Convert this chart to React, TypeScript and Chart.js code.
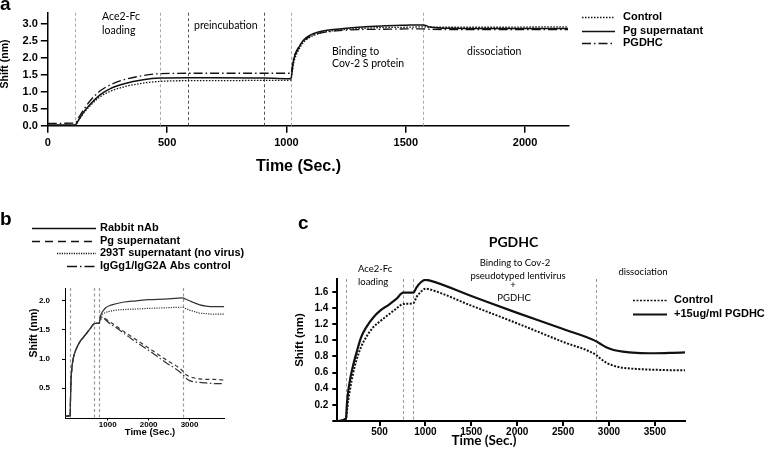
import React, { useEffect, useRef } from "react";
import { Chart, registerables } from "chart.js";

Chart.register(...registerables);

// ---------------- Panel a data ----------------
const aTime = [0, 115, 130, 150, 180, 220, 260, 320, 400, 471, 587, 700, 908, 1000, 1018, 1030, 1045, 1070, 1100, 1130, 1170, 1220, 1300, 1400, 1500, 1574, 1600, 1700, 1900, 2100, 2180];
const aControl = [0.01, 0.01, 0.17, 0.37, 0.61, 0.86, 1.01, 1.15, 1.26, 1.31, 1.33, 1.33, 1.34, 1.34, 1.35, 1.85, 2.15, 2.45, 2.62, 2.71, 2.78, 2.83, 2.87, 2.9, 2.91, 2.92, 2.91, 2.91, 2.91, 2.92, 2.92];
const aPg = [0.02, 0.02, 0.18, 0.4, 0.65, 0.92, 1.09, 1.24, 1.36, 1.41, 1.42, 1.42, 1.41, 1.39, 1.39, 1.95, 2.22, 2.52, 2.68, 2.76, 2.82, 2.86, 2.91, 2.95, 2.97, 2.98, 2.92, 2.88, 2.87, 2.87, 2.87];
const aPgdhc = [0.07, 0.08, 0.25, 0.47, 0.76, 1.03, 1.2, 1.36, 1.48, 1.54, 1.55, 1.55, 1.55, 1.55, 1.55, 2.0, 2.25, 2.5, 2.64, 2.72, 2.77, 2.81, 2.84, 2.85, 2.86, 2.86, 2.85, 2.84, 2.84, 2.84, 2.84];
const aSteps = [115, 471, 587, 908, 1018, 1574];
const aXTicks = [0, 500, 1000, 1500, 2000];
const aYTicks = [0, 0.5, 1, 1.5, 2, 2.5, 3];
const aLabels = ["Control", "Pg supernatant", "PGDHC"];

// ---------------- Panel b data ----------------
const bTime = [-40, 80, 95, 120, 160, 200, 260, 330, 400, 500, 600, 670, 795, 815, 845, 900, 950, 1050, 1200, 1400, 1700, 2000, 2400, 2830, 2900, 3000, 3100, 3250, 3400, 3600, 3850];
const bRabbit = [0.02, 0.03, 0.5, 0.82, 1.02, 1.12, 1.22, 1.31, 1.37, 1.46, 1.55, 1.61, 1.62, 1.72, 1.78, 1.84, 1.88, 1.92, 1.95, 1.98, 2.0, 2.02, 2.03, 2.05, 2.03, 2.0, 1.97, 1.93, 1.91, 1.9, 1.9];
const bPg = [0.02, 0.03, 0.5, 0.82, 1.02, 1.12, 1.22, 1.31, 1.37, 1.46, 1.55, 1.61, 1.62, 1.68, 1.72, 1.72, 1.69, 1.64, 1.57, 1.47, 1.33, 1.19, 1.0, 0.8, 0.74, 0.7, 0.68, 0.66, 0.65, 0.65, 0.64];
const b293T = [0.02, 0.03, 0.5, 0.82, 1.02, 1.12, 1.22, 1.31, 1.37, 1.46, 1.55, 1.61, 1.62, 1.7, 1.75, 1.78, 1.8, 1.82, 1.84, 1.85, 1.86, 1.87, 1.88, 1.89, 1.87, 1.84, 1.82, 1.79, 1.78, 1.77, 1.77];
const bIgG = [0.02, 0.03, 0.5, 0.82, 1.02, 1.12, 1.22, 1.31, 1.37, 1.46, 1.55, 1.61, 1.62, 1.66, 1.69, 1.7, 1.67, 1.61, 1.54, 1.44, 1.29, 1.15, 0.95, 0.74, 0.68, 0.63, 0.61, 0.6, 0.59, 0.58, 0.58];
const bSteps = [80, 670, 795, 2830];
const bXTicks = [1000, 2000, 3000];
const bYTicks = [0.5, 1, 1.5, 2];
const bLabels = ["Rabbit nAb", "Pg supernatant", "293T supernatant (no virus)", "IgGg1/IgG2A Abs control"];

// ---------------- Panel c data ----------------
const cTime = [40, 135, 145, 160, 180, 210, 250, 300, 360, 430, 510, 600, 680, 760, 870, 900, 950, 1000, 1050, 1500, 2000, 2500, 2858, 2900, 2975, 3050, 3150, 3300, 3500, 3700, 3828];
const cControl = [0.0, 0.03, 0.12, 0.26, 0.4, 0.58, 0.76, 0.92, 1.05, 1.16, 1.24, 1.32, 1.39, 1.45, 1.46, 1.53, 1.6, 1.64, 1.63, 1.43, 1.21, 0.98, 0.82, 0.78, 0.72, 0.685, 0.66, 0.645, 0.635, 0.63, 0.63];
const cPgdhc = [0.0, 0.03, 0.22, 0.38, 0.52, 0.68, 0.85, 1.04, 1.17, 1.28, 1.37, 1.44, 1.51, 1.59, 1.59, 1.65, 1.72, 1.75, 1.74, 1.55, 1.34, 1.14, 0.99, 0.96, 0.91, 0.88, 0.86, 0.845, 0.84, 0.845, 0.85];
const cSteps = [135, 760, 870, 2858];
const cXTicks = [500, 1000, 1500, 2000, 2500, 3000, 3500];
const cYTicks = [0, 0.2, 0.4, 0.6, 0.8, 1.0, 1.2, 1.4, 1.6];
const cLabels = ["Control", "+15ug/ml PGDHC"];

// ---------------- helpers ----------------
const ARIAL = '"Liberation Sans", Arial, sans-serif';
const CAL = 'Lato, "Noto Sans", sans-serif';
const f = (size: number, weight: string = "bold", family: string = ARIAL) => `${weight} ${size}px ${family}`;

const pts = (xs: number[], ys: number[]) => xs.map((x, i) => ({ x, y: ys[i] }));

type TextItem = { text: string; x: number; y: number; font: string; align?: CanvasTextAlign; rotate?: number; color?: string };
type LegendItem = { label: string; x1: number; x2: number; y: number; dash: number[]; width: number; color: string; textX: number; font: string };

function overlay(steps: number[], stepColors: string[], stepWidth: number, texts: TextItem[], legend: LegendItem[]) {
  return {
    id: "overlay",
    beforeDatasetsDraw(chart: any) {
      const { ctx, chartArea, scales } = chart;
      ctx.save();
      steps.forEach((v, i) => {
        const x = Math.round(scales.x.getPixelForValue(v)) + 0.5;
        ctx.strokeStyle = stepColors[i];
        ctx.lineWidth = stepWidth;
        ctx.setLineDash([3, 2.5]);
        ctx.beginPath();
        ctx.moveTo(x, chartArea.top);
        ctx.lineTo(x, chartArea.bottom);
        ctx.stroke();
      });
      ctx.restore();
    },
    afterDraw(chart: any) {
      const ctx = chart.ctx;
      ctx.save();
      for (const it of legend) {
        ctx.beginPath();
        ctx.setLineDash(it.dash);
        ctx.lineWidth = it.width;
        ctx.strokeStyle = it.color;
        ctx.moveTo(it.x1, it.y + 0.5);
        ctx.lineTo(it.x2, it.y + 0.5);
        ctx.stroke();
        ctx.setLineDash([]);
        ctx.font = it.font;
        ctx.fillStyle = "#000";
        ctx.textAlign = "left";
        ctx.textBaseline = "middle";
        ctx.fillText(it.label, it.textX, it.y);
      }
      for (const t of texts) {
        ctx.save();
        ctx.translate(t.x, t.y);
        if (t.rotate) ctx.rotate(t.rotate);
        ctx.font = t.font;
        ctx.textAlign = t.align || "left";
        ctx.textBaseline = "middle";
        ctx.fillStyle = t.color || "#000";
        ctx.fillText(t.text, 0, 0);
        ctx.restore();
      }
      ctx.restore();
    },
  };
}

function axisX(min: number, max: number, ticks: number[], h: number, tickFont: any, tickLen: number, pad: number, lw: number, fmt: (v: number) => string) {
  return {
    type: "linear",
    min,
    max,
    afterFit: (s: any) => { s.height = h; },
    afterBuildTicks: (s: any) => { s.ticks = ticks.map((v) => ({ value: v })); },
    ticks: { callback: (v: any) => fmt(Number(v)), font: tickFont, color: "#000", padding: pad, autoSkip: false, maxRotation: 0 },
    grid: { drawOnChartArea: false, drawTicks: true, tickLength: tickLen, tickColor: "#000", tickWidth: lw, lineWidth: lw, color: "#000" },
    border: { display: true, color: "#000", width: lw },
  };
}

function axisY(min: number, max: number, ticks: number[], w: number, tickFont: any, tickLen: number, pad: number, lw: number, fmt: (v: number) => string) {
  return {
    type: "linear",
    min,
    max,
    afterFit: (s: any) => { s.width = w; },
    afterBuildTicks: (s: any) => { s.ticks = ticks.map((v) => ({ value: v })); },
    ticks: { callback: (v: any) => fmt(Number(v)), font: tickFont, color: "#000", padding: pad, autoSkip: false },
    grid: { drawOnChartArea: false, drawTicks: true, tickLength: tickLen, tickColor: "#000", tickWidth: lw, lineWidth: lw, color: "#000" },
    border: { display: true, color: "#000", width: lw },
  };
}

function line(label: string, data: any[], color: string, width: number, dash: number[]) {
  return {
    label,
    data,
    borderColor: color,
    borderWidth: width,
    borderDash: dash,
    pointRadius: 0,
    fill: false,
    cubicInterpolationMode: "monotone",
  };
}

function baseOptions(padding: any, scales: any) {
  return {
    responsive: false,
    animation: false,
    devicePixelRatio: 1,
    layout: { padding },
    plugins: { legend: { display: false }, tooltip: { enabled: false }, title: { display: false } },
    scales,
  };
}

// ---------------- configs ----------------
function configA() {
  const dashes = [[1.5, 1.5], [], [9, 3, 1.5, 3]];
  const widths = [1.3, 1.5, 1.3];
  const series = [aControl, aPg, aPgdhc];
  const legendY = [17, 31, 43];
  const legend: LegendItem[] = aLabels.map((l, i) => ({ label: l, x1: 582, x2: 615, y: legendY[i], dash: dashes[i], width: widths[i], color: "#111", textX: 623, font: f(11) }));
  const texts: TextItem[] = [
    { text: "a", x: 0, y: 5, font: f(19) },
    { text: "Ace2-Fc", x: 102, y: 17, font: f(10.5, "normal", CAL) },
    { text: "loading", x: 102, y: 31, font: f(10.5, "normal", CAL) },
    { text: "preincubation", x: 194, y: 26, font: f(10.5, "normal", CAL) },
    { text: "Binding to", x: 332, y: 52, font: f(10.5, "normal", CAL) },
    { text: "Cov-2 S protein", x: 332, y: 64, font: f(10.5, "normal", CAL) },
    { text: "dissociation", x: 467, y: 52, font: f(10.5, "normal", CAL) },
    { text: "Shift (nm)", x: 5, y: 64, font: f(10.5), align: "center", rotate: -Math.PI / 2 },
    { text: "Time (Sec.)", x: 298.5, y: 167, font: f(16), align: "center" },
  ];
  return {
    type: "line",
    data: { datasets: series.map((s, i) => line(aLabels[i], pts(aTime, s), "#111", widths[i], dashes[i])) },
    options: baseOptions(
      { left: 0, right: 765 - 568.3, top: 12.7, bottom: 0 },
      {
        x: axisX(0, 2181, aXTicks, 200 - 125.7, { family: ARIAL, size: 11, weight: "bold" }, 7, 4, 1.5, (v) => String(v)),
        y: axisY(0, 3.34, aYTicks, 47.8, { family: ARIAL, size: 11, weight: "bold" }, 7, 3, 1.5, (v) => v.toFixed(1)),
      }
    ),
    plugins: [overlay(aSteps, ["#aaa", "#aaa", "#555", "#555", "#aaa", "#aaa"], 1, texts, legend)],
  };
}

function configB() {
  const dashes = [[], [4, 3], [1.2, 1.2], [8, 2.5, 1.5, 2.5]];
  const legendDashes = [[], [8, 5], [1.2, 1.2], [10, 3, 1.5, 3]];
  const series = [bRabbit, bPg, b293T, bIgG];
  const legendY = [28, 41, 53, 66];
  const legendX1 = [32, 32, 57, 67];
  const legend: LegendItem[] = bLabels.map((l, i) => ({ label: l, x1: legendX1[i], x2: 96, y: legendY[i], dash: legendDashes[i], width: 1.3, color: "#111", textX: 100, font: f(11) }));
  const texts: TextItem[] = [
    { text: "b", x: 0, y: 20, font: f(19) },
    { text: "Shift (nm)", x: 34, y: 133, font: f(10.5), align: "center", rotate: -Math.PI / 2 },
    { text: "Time (Sec.)", x: 150, y: 232.5, font: f(9.5), align: "center" },
  ];
  return {
    type: "line",
    data: { datasets: series.map((s, i) => line(bLabels[i], pts(bTime, s), "#333", 1.2, dashes[i])) },
    options: baseOptions(
      { left: 0, right: 260 - 224.3, top: 88, bottom: 0 },
      {
        x: axisX(-45, 3850, bXTicks, 240 - 218.5, { family: ARIAL, size: 8, weight: "bold", lineHeight: 1 }, 2, 0, 1, (v) => String(v)),
        y: axisY(-0.02, 2.22, bYTicks, 65, { family: ARIAL, size: 8, weight: "bold" }, 3, 12, 1, (v) => v.toFixed(1)),
      }
    ),
    plugins: [overlay(bSteps, ["#999", "#999", "#999", "#999"], 1.2, texts, legend)],
  };
}

function configC() {
  const dashes = [[2, 1.5], []];
  const widths = [2, 2.2];
  const series = [cControl, cPgdhc];
  const legendY = [100, 114];
  const legend: LegendItem[] = cLabels.map((l, i) => ({ label: l, x1: 348, x2: 382, y: legendY[i], dash: dashes[i], width: widths[i] - 0.4, color: "#111", textX: 389, font: f(11) }));
  const texts: TextItem[] = [
    { text: "c", x: 13, y: 24, font: f(19) },
    { text: "PGDHC", x: 228.5, y: 42, font: f(14, "bold", CAL), align: "center" },
    { text: "Ace2-Fc", x: 73, y: 69, font: f(9.5, "normal", CAL) },
    { text: "loading", x: 73, y: 82, font: f(9.5, "normal", CAL) },
    { text: "Binding to Cov-2", x: 230, y: 63, font: f(9.5, "normal", CAL), align: "center" },
    { text: "pseudotyped lentivirus", x: 233, y: 75.5, font: f(9.5, "normal", CAL), align: "center" },
    { text: "+", x: 228, y: 85, font: f(9.5, "normal", CAL), align: "center" },
    { text: "PGDHC", x: 229, y: 97.5, font: f(9.5, "normal", CAL), align: "center" },
    { text: "dissociation", x: 358, y: 72, font: f(9.5, "normal", CAL), align: "center" },
    { text: "Shift (nm)", x: 15, y: 140, font: f(11.5), align: "center", rotate: -Math.PI / 2 },
    { text: "Time (Sec.)", x: 199, y: 241, font: f(13.5, "bold", CAL), align: "center" },
  ];
  return {
    type: "line",
    data: { datasets: series.map((s, i) => line(cLabels[i], pts(cTime, s), "#111", widths[i], dashes[i])) },
    options: baseOptions(
      { left: 0, right: 480 - 400, top: 79, bottom: 0 },
      {
        x: axisX(40, 3828, cXTicks, 255 - 221, { family: ARIAL, size: 10, weight: "bold" }, 5, 0, 2, (v) => String(v)),
        y: axisY(0, 1.76, cYTicks, 52.3, { family: ARIAL, size: 10, weight: "bold" }, 5, 4, 2, (v) => (v === 0 ? "" : v.toFixed(1))),
      }
    ),
    plugins: [overlay(cSteps, ["#999", "#999", "#999", "#999"], 1, texts, legend)],
  };
}

function Panel(props: { left: number; top: number; width: number; height: number; make: () => any }) {
  const ref = useRef<HTMLCanvasElement>(null);
  useEffect(() => {
    const chart = new Chart(ref.current as HTMLCanvasElement, props.make());
    return () => chart.destroy();
  }, []);
  return (
    <canvas
      ref={ref}
      width={props.width}
      height={props.height}
      style={{ position: "absolute", left: props.left, top: props.top, width: props.width, height: props.height }}
    />
  );
}

export default function App() {
  return (
    <div style={{ position: "absolute", left: 0, top: 0, width: 765, height: 455, background: "#fff", overflow: "hidden" }}>
      <Panel left={0} top={0} width={765} height={200} make={configA} />
      <Panel left={0} top={200} width={260} height={240} make={configB} />
      <Panel left={285} top={200} width={480} height={255} make={configC} />
    </div>
  );
}
